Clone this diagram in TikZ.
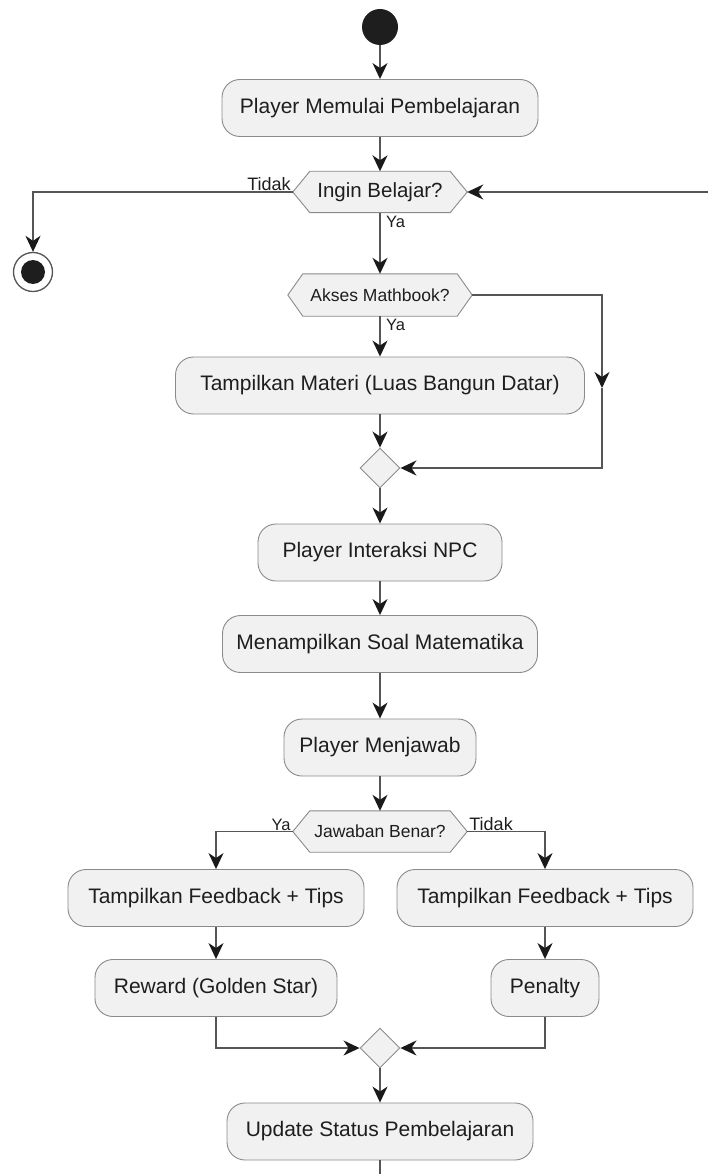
\documentclass[tikz,border=0pt]{standalone}
\usepackage{fontspec}
\setmainfont{Liberation Sans}
\usetikzlibrary{arrows.meta,shapes.geometric,backgrounds,calc}
\definecolor{boxfill}{HTML}{F1F1F1}
\definecolor{boxline}{HTML}{8A8A8A}
\definecolor{lineC}{HTML}{555555}
\definecolor{headC}{HTML}{1A1A1A}
\definecolor{txt}{HTML}{1E1E1E}
\newcommand\hexbg[2]{%
  \begin{scope}[on background layer]
    \draw[draw=boxline, fill=boxfill, line width=0.9pt]
      (#1.west) -- ([xshift=#2]#1.north west) -- ([xshift=-#2]#1.north east)
      -- (#1.east) -- ([xshift=-#2]#1.south east) -- ([xshift=#2]#1.south west) -- cycle;
  \end{scope}}
\begin{document}
\begin{tikzpicture}[x=1pt,y=-1pt,
  act/.style={draw=boxline, fill=boxfill, rounded corners=18pt, line width=0.9pt,
    minimum height=57pt, inner sep=0pt, text=txt, font=\fontsize{21}{25}\selectfont},
  dec/.style={inner sep=0pt, text=txt, minimum height=41pt},
  merge/.style={diamond, draw=boxline, fill=boxfill, line width=0.9pt,
    minimum width=40pt, minimum height=40pt, inner sep=0pt},
  flow/.style={draw=lineC, line width=1.6pt, -{Stealth[length=16pt,width=15pt,inset=5pt,color=headC]}},
  plain/.style={draw=lineC, line width=1.6pt},
  lbl/.style={text=txt, font=\fontsize{18}{20}\selectfont, inner sep=1pt}]
\useasboundingbox (0,0) rectangle (708,1174);

% nodes
\node[circle, fill=txt, minimum size=36pt, inner sep=0pt] (start) at (380,27) {};
\node[act, minimum width=316pt] (b1) at (380,108) {Player Memulai Pembelajaran};
\node[dec, minimum width=174pt, font=\fontsize{20.5}{24}\selectfont] (d1) at (380,192) {Ingin Belajar?};
\hexbg{d1}{17pt}
\node[circle, draw=lineC, line width=1.3pt, fill=white, minimum size=39pt, inner sep=0pt] (end) at (33,272) {};
\fill[txt] (end.center) circle (12pt);
\node[dec, minimum width=184pt, minimum height=42pt, font=\fontsize{17.5}{20}\selectfont] (d2) at (380,295) {Akses Mathbook?};
\hexbg{d2}{15pt}
\node[act, minimum width=409pt] (b2) at (380,385.5) {Tampilkan Materi (Luas Bangun Datar)};
\node[merge] (m1) at (380,468) {};
\node[act, minimum width=244pt] (b3) at (380,552.5) {Player Interaksi NPC};
\node[act, minimum width=315pt] (b4) at (380,644) {Menampilkan Soal Matematika};
\node[act, minimum width=192pt] (b5) at (380,747.5) {Player Menjawab};
\node[dec, minimum width=174pt, font=\fontsize{17.5}{20}\selectfont] (d3) at (380,831.5) {Jawaban Benar?};
\hexbg{d3}{17pt}
\node[act, minimum width=296pt] (b6) at (216,898) {Tampilkan Feedback + Tips};
\node[act, minimum width=242pt] (b7) at (216,988) {Reward (Golden Star)};
\node[act, minimum width=296pt] (b8) at (545,898) {Tampilkan Feedback + Tips};
\node[act, minimum width=108pt] (b9) at (545,988) {Penalty};
\node[merge] (m2) at (380,1048) {};
\node[act, minimum width=306pt] (b10) at (380,1131.5) {Update Status Pembelajaran};

% coordinates for free ends / bends
\coordinate (loopin) at (708,192);
\coordinate (r1) at (602,295);
\coordinate (r2) at (602,388);
\coordinate (r3) at (602,468);
\coordinate (bottom) at (380,1174);

% connectors
\draw[flow] (start) -- (b1);
\draw[flow] (b1) -- (d1);
\draw[flow] (d1.west) -| (end.north);
\draw[flow] (loopin) -- (d1.east);
\draw[flow] (d1.south) -- (d2.north);
\draw[flow] (d2.south) -- (b2.north);
\draw[flow] (d2.east) -- (r1) -- (r2);
\draw[flow] (r2) -- (r3) -- (m1.east);
\draw[flow] (b2.south) -- (m1.north);
\draw[flow] (m1.south) -- (b3.north);
\draw[flow] (b3) -- (b4);
\draw[flow] (b4) -- (b5);
\draw[flow] (b5.south) -- (d3.north);
\draw[flow] (d3.west) -| (b6.north);
\draw[flow] (d3.east) -| (b8.north);
\draw[flow] (b6) -- (b7);
\draw[flow] (b8) -- (b9);
\draw[flow] (b7.south) |- (m2.west);
\draw[flow] (b9.south) |- (m2.east);
\draw[flow] (m2.south) -- (b10.north);
\draw[plain] (b10.south) -- (bottom);

% labels
\node[lbl, anchor=south east] (l1) at ([xshift=-1pt]d1.west) {Tidak};
\node[lbl, anchor=north west, font=\fontsize{16.5}{20}\selectfont] (l2) at ([xshift=5pt,yshift=-2pt]d1.south) {Ya};
\node[lbl, anchor=north west, font=\fontsize{16.5}{20}\selectfont] (l3) at ([xshift=5pt,yshift=-2pt]d2.south) {Ya};
\node[lbl, anchor=south east, font=\fontsize{16.5}{20}\selectfont] (l4) at ([xshift=-1pt]d3.west) {Ya};
\node[lbl, anchor=south west] (l5) at ([xshift=1pt]d3.east) {Tidak};
\end{tikzpicture}
\end{document}
